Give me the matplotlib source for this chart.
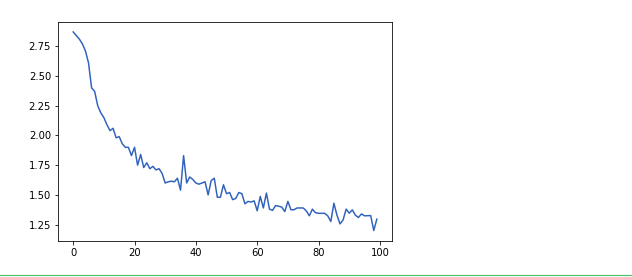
import matplotlib
matplotlib.use("Agg")
import matplotlib.pyplot as plt
from matplotlib.lines import Line2D

epochs = list(range(100))
loss = [2.87, 2.84, 2.81, 2.77, 2.71, 2.61, 2.40, 2.37, 2.25, 2.19,
        2.15, 2.09, 2.04, 2.06, 1.98, 1.99, 1.93, 1.90, 1.90, 1.83,
        1.90, 1.75, 1.84, 1.73, 1.77, 1.72, 1.74, 1.71, 1.72, 1.68,
        1.60, 1.61, 1.615, 1.61, 1.64, 1.54, 1.83, 1.60, 1.65, 1.63,
        1.60, 1.59, 1.60, 1.61, 1.50, 1.62, 1.64, 1.48, 1.48, 1.585,
        1.51, 1.52, 1.46, 1.47, 1.52, 1.51, 1.425, 1.445, 1.44, 1.45,
        1.366, 1.487, 1.39, 1.515, 1.38, 1.37, 1.41, 1.405, 1.397, 1.36,
        1.445, 1.375, 1.375, 1.39, 1.39, 1.39, 1.366, 1.324, 1.38, 1.35,
        1.345, 1.345, 1.345, 1.324, 1.276, 1.43, 1.33, 1.256, 1.29, 1.38,
        1.346, 1.374, 1.33, 1.31, 1.34, 1.324, 1.325, 1.326, 1.20, 1.296]

W, H, DPI = 632, 277, 72
fig = plt.figure(figsize=(W / DPI, H / DPI), dpi=DPI)
ax = fig.add_axes([58 / W, (H - 240.5) / H, (392 - 58) / W, (240.5 - 22) / H])
ax.plot(epochs, loss, color="#3163bd", linewidth=1.5)
ax.tick_params(labelsize=10)

fig.add_artist(Line2D([0, 1], [1.8 / H, 1.8 / H], color="#4cc46c",
                      linewidth=1.2, transform=fig.transFigure))

fig.savefig("out.png", dpi=DPI)
